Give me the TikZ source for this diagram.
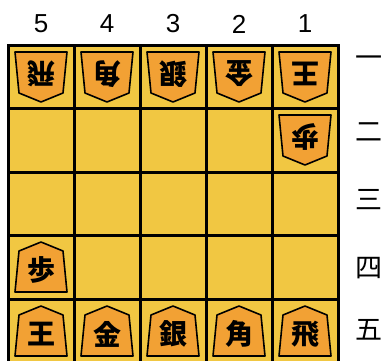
\documentclass[tikz,border=0pt]{standalone}
\usepackage{fontspec}
\setmainfont{Liberation Sans}
\newfontfamily\jpfont{Noto Sans CJK JP}
\usetikzlibrary{positioning}
\definecolor{boardyellow}{RGB}{241,199,66}
\definecolor{pieceorange}{RGB}{242,161,52}

\tikzset{
  piece/.pic={
    \draw[line width=1.6pt, fill=pieceorange, line join=round] (-26,-25) -- (26,-25) -- (22,16) -- (0,25) -- (-22,16) -- cycle;
    \node[kanji] (-k) at (0,-3) {#1};
  },
}

\begin{document}
\begin{tikzpicture}[x=1pt, y=1pt]
  \tikzstyle{kanji}=[font=\jpfont\bfseries\fontsize{28}{28}\selectfont, inner sep=0pt]
  \tikzstyle{filenum}=[font=\fontsize{26}{26}\selectfont, inner sep=0pt]
  \tikzstyle{ranknum}=[font=\jpfont\fontsize{27}{27}\selectfont, inner sep=0pt]
  \tikzstyle{gote}=[rotate=180, transform shape]
  \useasboundingbox (0,0) rectangle (382,360);

  % board
  \fill[boardyellow] (8,315) rectangle (338,-3);
  \draw[line width=3pt] (8,315) rectangle (338,-3);
  \foreach \x in {74,140,206,272} \draw[line width=3pt] (\x,315) -- (\x,-3);
  \foreach \y in {251.5,188,124.5,61} \draw[line width=3pt] (8,\y) -- (338,\y);

  % file and rank labels
  \node[filenum] (f5) at (41,336) {5};
  \node[filenum] (f4) at (107,336) {4};
  \node[filenum] (f3) at (173,336) {3};
  \node[filenum] (f2) at (239,336) {2};
  \node[filenum] (f1) at (305,336) {1};
  \node[ranknum] (r1) at (369,298) {一};
  \node[ranknum] (r2) at (369,228) {二};
  \node[ranknum] (r3) at (369,160) {三};
  \node[ranknum] (r4) at (369,92) {四};
  \node[ranknum] (r5) at (369,30) {五};

  % gote pieces
  \pic[gote] (g51) at (41,283) {piece=飛};
  \pic[gote] (g41) at (107,283) {piece=角};
  \pic[gote] (g31) at (173,283) {piece=銀};
  \pic[gote] (g21) at (239,283) {piece=金};
  \pic[gote] (g11) at (305,283) {piece=王};
  \pic[gote] (g12) at (305,220) {piece=歩};

  % sente pieces
  \pic (s54) at (41,93) {piece=歩};
  \pic (s55) at (41,29) {piece=王};
  \pic (s45) at (107,29) {piece=金};
  \pic (s35) at (173,29) {piece=銀};
  \pic (s25) at (239,29) {piece=角};
  \pic (s15) at (305,29) {piece=飛};
\end{tikzpicture}
\end{document}
